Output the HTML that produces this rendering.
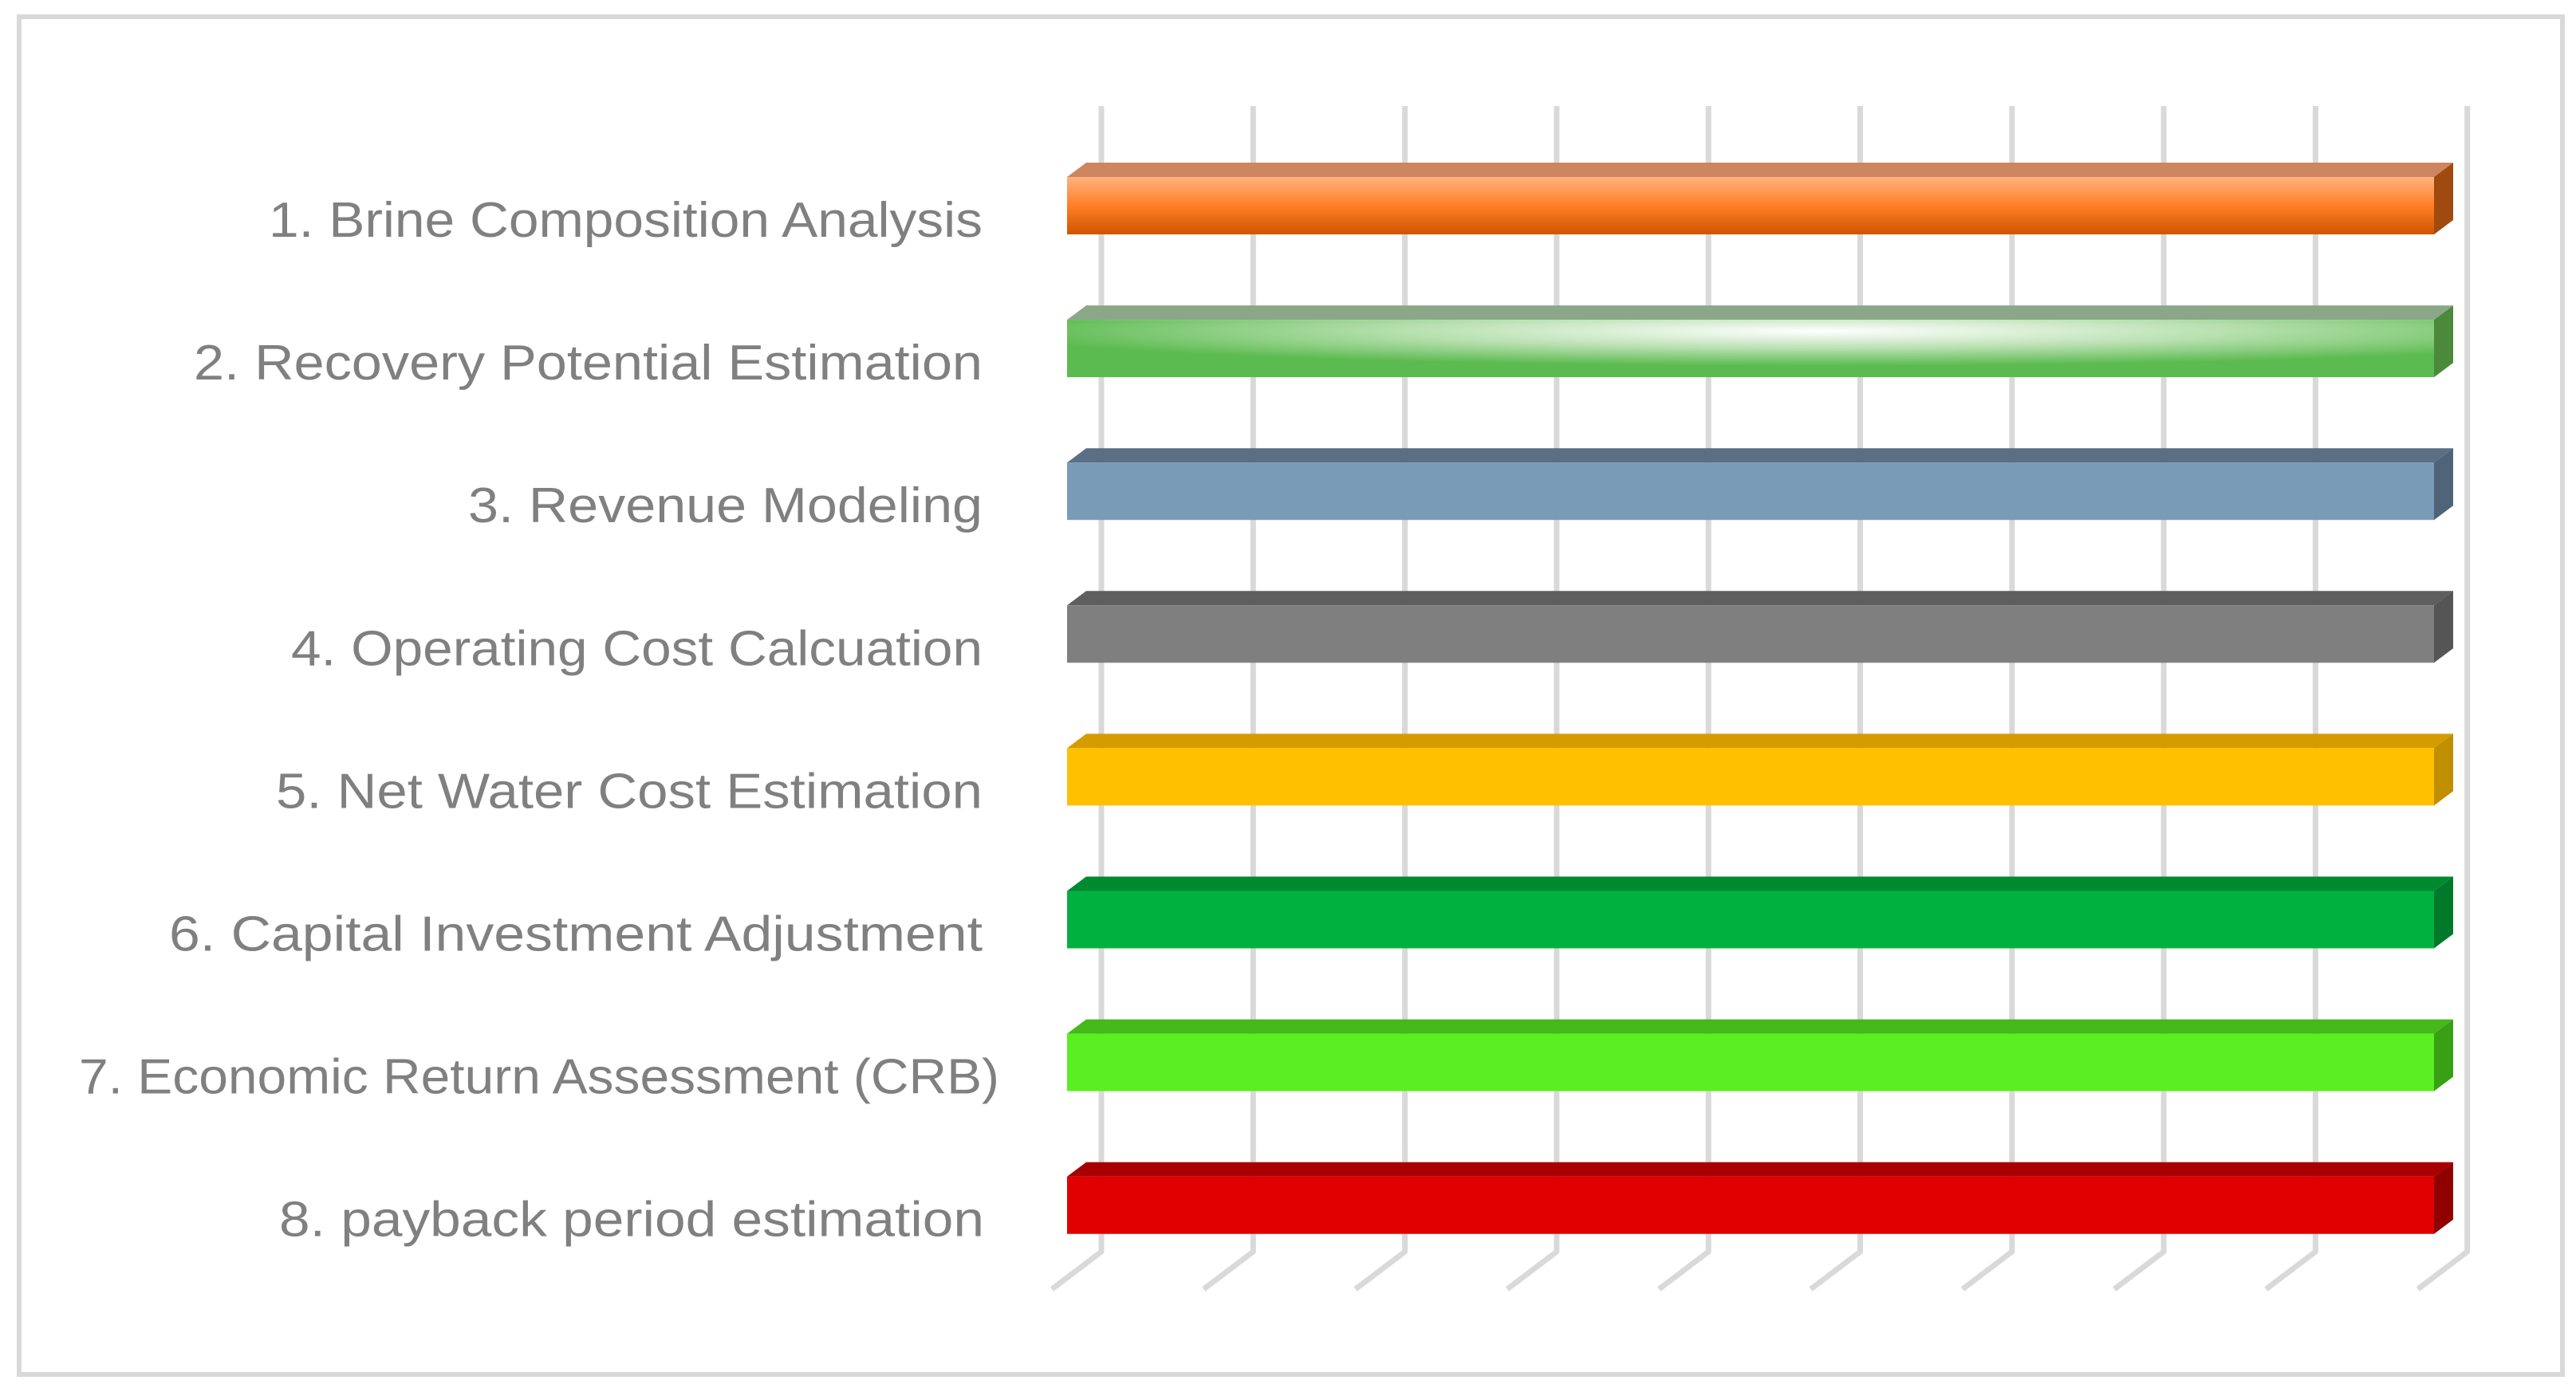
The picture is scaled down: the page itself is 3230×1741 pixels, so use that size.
<!DOCTYPE html>
<html><head><meta charset="utf-8">
<style>
html,body{margin:0;padding:0;background:#fff;}
svg{display:block;}
text{font-family:"Liberation Sans",sans-serif;fill:#808080;font-size:62px;}
</style></head>
<body>
<svg id="chart" width="3230" height="1741" viewBox="0 0 3230 1741" xmlns="http://www.w3.org/2000/svg">
<defs>
<linearGradient id="g0" x1="0" y1="0" x2="0" y2="1"><stop offset="0" stop-color="#ffb27e"/><stop offset="0.5" stop-color="#ff7f27"/><stop offset="1" stop-color="#d05400"/></linearGradient>
<radialGradient id="g1" cx="0.55" cy="0.2" r="0.6"><stop offset="0" stop-color="#ffffff"/><stop offset="0.5" stop-color="#b8e0b0"/><stop offset="1" stop-color="#5cbb50"/></radialGradient>
</defs>
<rect x="24" y="21" width="3189" height="1703" fill="#fff" stroke="#d9d9d9" stroke-width="6"/>
<g id="grid"></g>
<g id="bars"></g>
<g id="labels"></g>
</svg>
<script>
const categories = ["1. Brine Composition Analysis","2. Recovery Potential Estimation","3. Revenue Modeling","4. Operating Cost Calcuation","5. Net Water Cost Estimation","6. Capital Investment Adjustment","7. Economic Return Assessment (CRB)","8. payback period estimation"];
const values = [100,100,100,100,100,100,100,100];
const axisMax = 100;
const gridTicks = [0,1,2,3,4,5,6,7,8,9];

const NS="http://www.w3.org/2000/svg";
const x0=1338, x1=3052, top0=222, pitch=179.1, bh=72, dx=24, dy=18;
const labelStart=[337,243,587,365,346,212,99,350];
const labelEnd=[1232,1232,1232,1232,1232,1232,1253,1234];
const fills=["url(#g0)","url(#g1)","#7a9bb8","#7f7f7f","#ffc000","#00b140","#5aef20","#e00000"];
const tops=["#cd8660","#8aa888","#5b6f84","#5e5e5e","#d59c00","#008a30","#45b81a","#a80000"];
const sides=["#a04a10","#4a8a3a","#4f6478","#555555","#bf8f00","#007a2a","#38a015","#900000"];
function xs(v){return x0+(x1-x0)*v/axisMax;}
function ys(i){return top0+pitch*i;}
function mk(tag,attrs,parent){const e=document.createElementNS(NS,tag);for(const k in attrs)e.setAttribute(k,attrs[k]);parent.appendChild(e);return e;}
const grid=document.getElementById('grid'),bars=document.getElementById('bars'),labels=document.getElementById('labels');
const gx0=1381, gstep=190.3;
gridTicks.forEach(t=>{
  const gx=gx0+gstep*t;
  const p=mk('polyline',{points:`${gx},133 ${gx},1570 ${gx-62},1617`,fill:'none',stroke:'#d9d9d9','stroke-width':7,'stroke-linejoin':'round'},grid);
  
  
});
categories.forEach((c,i)=>{
  const y=ys(i), xe=xs(values[i]);
  const g=mk('g',{},bars);
  
  
  mk('polygon',{points:`${x0},${y} ${x0+dx},${y-dy} ${xe+dx},${y-dy} ${xe},${y}`,fill:tops[i]},g);
  mk('polygon',{points:`${xe},${y} ${xe+dx},${y-dy} ${xe+dx},${y+bh-dy} ${xe},${y+bh}`,fill:sides[i]},g);
  mk('rect',{x:x0,y:y,width:xe-x0,height:bh,fill:fills[i]},g);
  const t=mk('text',{x:labelStart[i],y:y+bh/2+39,textLength:labelEnd[i]-labelStart[i],lengthAdjust:'spacingAndGlyphs'},labels);
  t.textContent=c;
  
  
});
</script>
</body></html>
